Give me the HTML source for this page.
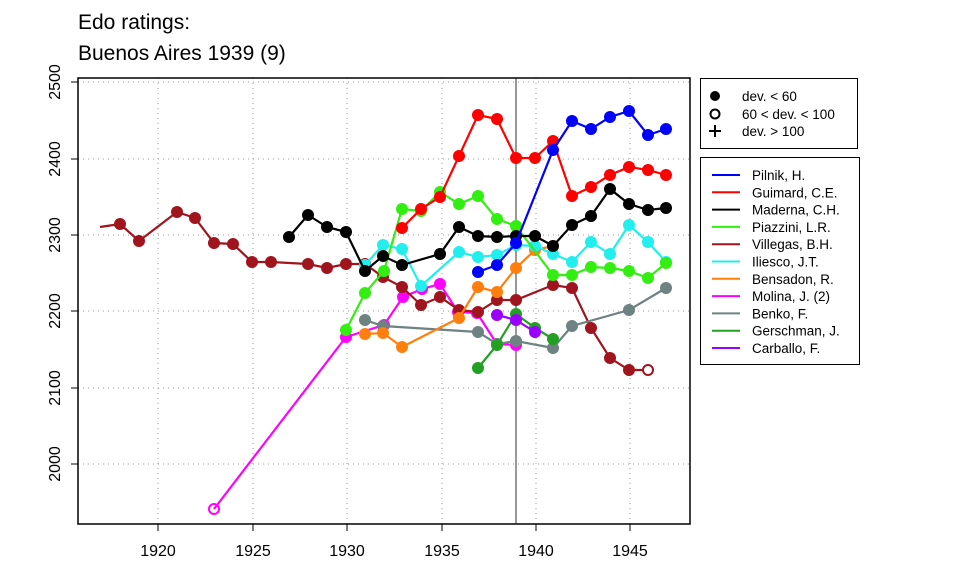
<!DOCTYPE html>
<html><head><meta charset="utf-8"><style>
body{margin:0;background:#fff}
svg{display:block;font-family:"Liberation Sans",sans-serif}
</style></head><body>
<svg width="960" height="576" viewBox="0 0 960 576" xmlns="http://www.w3.org/2000/svg">
<defs>
<marker id="mb" markerUnits="userSpaceOnUse" markerWidth="14" markerHeight="14" refX="7" refY="7"><circle cx="7" cy="7" r="6" fill="#0000ff"/></marker>
<marker id="mr" markerUnits="userSpaceOnUse" markerWidth="14" markerHeight="14" refX="7" refY="7"><circle cx="7" cy="7" r="6" fill="#ff0000"/></marker>
<marker id="mk" markerUnits="userSpaceOnUse" markerWidth="14" markerHeight="14" refX="7" refY="7"><circle cx="7" cy="7" r="6" fill="#000"/></marker>
<marker id="mg" markerUnits="userSpaceOnUse" markerWidth="14" markerHeight="14" refX="7" refY="7"><circle cx="7" cy="7" r="6" fill="#33ee11"/></marker>
<marker id="mv" markerUnits="userSpaceOnUse" markerWidth="14" markerHeight="14" refX="7" refY="7"><circle cx="7" cy="7" r="6" fill="#a0141e"/></marker>
<marker id="mc" markerUnits="userSpaceOnUse" markerWidth="14" markerHeight="14" refX="7" refY="7"><circle cx="7" cy="7" r="6" fill="#22eeee"/></marker>
<marker id="mo" markerUnits="userSpaceOnUse" markerWidth="14" markerHeight="14" refX="7" refY="7"><circle cx="7" cy="7" r="6" fill="#ff7f0e"/></marker>
<marker id="mm" markerUnits="userSpaceOnUse" markerWidth="14" markerHeight="14" refX="7" refY="7"><circle cx="7" cy="7" r="6" fill="#ff00ff"/></marker>
<marker id="ms" markerUnits="userSpaceOnUse" markerWidth="14" markerHeight="14" refX="7" refY="7"><circle cx="7" cy="7" r="6" fill="#6e8282"/></marker>
<marker id="md" markerUnits="userSpaceOnUse" markerWidth="14" markerHeight="14" refX="7" refY="7"><circle cx="7" cy="7" r="6" fill="#22a022"/></marker>
<marker id="mp" markerUnits="userSpaceOnUse" markerWidth="14" markerHeight="14" refX="7" refY="7"><circle cx="7" cy="7" r="6" fill="#9900ff"/></marker>
</defs>
<text x="78" y="29" font-size="21">Edo ratings:</text>
<text x="78" y="60" font-size="21">Buenos Aires 1939 (9)</text>
<g stroke="#999" stroke-dasharray="1,4" stroke-width="1">
<line x1="158" y1="78" x2="158" y2="524"/><line x1="253" y1="78" x2="253" y2="524"/><line x1="347" y1="78" x2="347" y2="524"/><line x1="442" y1="78" x2="442" y2="524"/><line x1="536" y1="78" x2="536" y2="524"/><line x1="630" y1="78" x2="630" y2="524"/>
<line x1="78" y1="82" x2="690" y2="82"/><line x1="78" y1="159" x2="690" y2="159"/><line x1="78" y1="235" x2="690" y2="235"/><line x1="78" y1="311" x2="690" y2="311"/><line x1="78" y1="388" x2="690" y2="388"/><line x1="78" y1="464" x2="690" y2="464"/>
</g>
<line x1="516" y1="78" x2="516" y2="524" stroke="#777" stroke-width="1.5"/>
<g fill="none" stroke-width="2.2">
<polyline stroke="#ff00ff" points="214,509 346,337" />
<polyline stroke="#ff00ff" marker-start="url(#mm)" marker-mid="url(#mm)" marker-end="url(#mm)" points="346,337 384,325 403,297 422,289 440,284 458,312 477,313 497,344 516,345"/>
<line x1="100" y1="227" x2="120" y2="224" stroke="#a0141e"/>
<polyline stroke="#a0141e" marker-start="url(#mv)" marker-mid="url(#mv)" marker-end="url(#mv)" points="120,224 139,241 177,212 195,218 214,243 233,244 252,262 271,262 308,264 327,268 346,264 365,264 383,277 402,287 421,305 440,297 459,310 478,312 497,300 516,300 553,285 572,288 591,328 610,358 629,370"/>
<line x1="629" y1="370" x2="648" y2="370" stroke="#a0141e"/>
<polyline stroke="#6e8282" marker-start="url(#ms)" marker-mid="url(#ms)" marker-end="url(#ms)" points="365,320 383,326 478,332 497,344 516,341 553,348 572,326 629,310 666,288"/>
<polyline stroke="#ff7f0e" marker-start="url(#mo)" marker-mid="url(#mo)" marker-end="url(#mo)" points="365,334 383,333 402,347 459,318 478,287 497,292 516,268 535,250 553,246"/>
<polyline stroke="#22eeee" marker-start="url(#mc)" marker-mid="url(#mc)" marker-end="url(#mc)" points="365,265 383,245 402,249 421,286 459,252 478,257 497,255 516,245 535,246 553,254 572,262 591,242 610,254 629,225 648,242 666,262"/>
<polyline stroke="#33ee11" marker-start="url(#mg)" marker-mid="url(#mg)" marker-end="url(#mg)" points="346,330 365,293 384,271 402,209 421,211 440,192 459,204 478,196 497,219 516,226 553,275 572,275 591,267 610,268 629,271 648,278 666,263"/>
<polyline stroke="#000" marker-start="url(#mk)" marker-mid="url(#mk)" marker-end="url(#mk)" points="289,237 308,215 327,227 346,232 365,271 383,256 402,265 440,254 459,227 478,236 497,237 516,236 535,236 553,246 572,225 591,216 610,189 629,204 648,210 666,208"/>
<polyline stroke="#ff0000" marker-start="url(#mr)" marker-mid="url(#mr)" marker-end="url(#mr)" points="402,228 421,209 440,197 459,156 478,115 497,119 516,158 535,158 553,141 572,196 591,187 610,175 629,167 648,170 666,175"/>
<polyline stroke="#0000ff" marker-start="url(#mb)" marker-mid="url(#mb)" marker-end="url(#mb)" points="478,272 497,265 516,243 553,150 572,121 591,129 610,117 629,111 648,135 666,129"/>
<polyline stroke="#22a022" marker-start="url(#md)" marker-mid="url(#md)" marker-end="url(#md)" points="478,368 497,345 516,314 535,328 553,339"/>
<polyline stroke="#9900ff" marker-start="url(#mp)" marker-mid="url(#mp)" marker-end="url(#mp)" points="497,315 516,320 535,332"/>
</g>
<circle cx="214" cy="509" r="5" fill="none" stroke="#ff00ff" stroke-width="2"/>
<circle cx="648" cy="370" r="5" fill="#fff" stroke="#a0141e" stroke-width="2"/>
<rect x="78" y="78" width="612" height="446" fill="none" stroke="#000" stroke-width="1.5"/>
<g stroke="#000" stroke-width="1">
<line x1="158" y1="524" x2="158" y2="531"/><line x1="253" y1="524" x2="253" y2="531"/><line x1="347" y1="524" x2="347" y2="531"/><line x1="442" y1="524" x2="442" y2="531"/><line x1="536" y1="524" x2="536" y2="531"/><line x1="630" y1="524" x2="630" y2="531"/>
<line x1="71" y1="82" x2="78" y2="82"/><line x1="71" y1="159" x2="78" y2="159"/><line x1="71" y1="235" x2="78" y2="235"/><line x1="71" y1="311" x2="78" y2="311"/><line x1="71" y1="388" x2="78" y2="388"/><line x1="71" y1="464" x2="78" y2="464"/>
</g>
<g font-size="16" text-anchor="middle">
<text x="158" y="556">1920</text><text x="253" y="556">1925</text><text x="347" y="556">1930</text><text x="442" y="556">1935</text><text x="536" y="556">1940</text><text x="630" y="556">1945</text>
<text transform="translate(60,82) rotate(-90)">2500</text>
<text transform="translate(60,159) rotate(-90)">2400</text>
<text transform="translate(60,235) rotate(-90)">2300</text>
<text transform="translate(60,311) rotate(-90)">2200</text>
<text transform="translate(60,388) rotate(-90)">2100</text>
<text transform="translate(60,464) rotate(-90)">2000</text>
</g>
<rect x="700.5" y="78.5" width="157" height="70" fill="#fff" stroke="#000" stroke-width="1"/>
<circle cx="715" cy="96" r="5" fill="#000"/>
<circle cx="715" cy="114" r="4.5" fill="none" stroke="#000" stroke-width="2"/>
<path d="M709 131 H721 M715 125 V137" stroke="#000" stroke-width="2"/>
<g font-size="13.5"><text x="742" y="101">dev. &lt; 60</text><text x="742" y="119">60 &lt; dev. &lt; 100</text><text x="742" y="136">dev. &gt; 100</text></g>
<rect x="700.5" y="157.5" width="159" height="207" fill="#fff" stroke="#000" stroke-width="1"/>
<g stroke-width="2">
<line x1="712" x2="740" y1="175" y2="175" stroke="#0000ff"/>
<line x1="712" x2="740" y1="192.3" y2="192.3" stroke="#ff0000"/>
<line x1="712" x2="740" y1="209.6" y2="209.6" stroke="#000"/>
<line x1="712" x2="740" y1="226.9" y2="226.9" stroke="#33ee11"/>
<line x1="712" x2="740" y1="244.2" y2="244.2" stroke="#a0141e"/>
<line x1="712" x2="740" y1="261.5" y2="261.5" stroke="#22eeee"/>
<line x1="712" x2="740" y1="278.8" y2="278.8" stroke="#ff7f0e"/>
<line x1="712" x2="740" y1="296.1" y2="296.1" stroke="#ff00ff"/>
<line x1="712" x2="740" y1="313.4" y2="313.4" stroke="#6e8282"/>
<line x1="712" x2="740" y1="330.7" y2="330.7" stroke="#22a022"/>
<line x1="712" x2="740" y1="348" y2="348" stroke="#9900ff"/>
</g>
<g font-size="13.5">
<text x="752" y="180">Pilnik, H.</text>
<text x="752" y="197.3">Guimard, C.E.</text>
<text x="752" y="214.6">Maderna, C.H.</text>
<text x="752" y="231.9">Piazzini, L.R.</text>
<text x="752" y="249.2">Villegas, B.H.</text>
<text x="752" y="266.5">Iliesco, J.T.</text>
<text x="752" y="283.8">Bensadon, R.</text>
<text x="752" y="301.1">Molina, J. (2)</text>
<text x="752" y="318.4">Benko, F.</text>
<text x="752" y="335.7">Gerschman, J.</text>
<text x="752" y="353">Carballo, F.</text>
</g>
</svg>
</body></html>
